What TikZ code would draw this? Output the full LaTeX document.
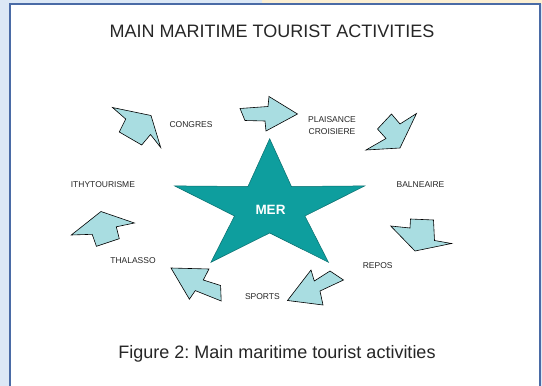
\documentclass[tikz,border=0pt]{standalone}
\usepackage{fontspec}
\setmainfont{Liberation Sans}
\frenchspacing
\definecolor{bgblue}{HTML}{DCE8F6}
\definecolor{topbeige}{HTML}{FCEFD2}
\definecolor{frameblue}{HTML}{4A6BA6}
\definecolor{arrowfill}{HTML}{A9DDE1}
\definecolor{starfill}{HTML}{0E9E9E}
\definecolor{stardraw}{HTML}{0A6E6E}
\definecolor{txt}{HTML}{262626}
\begin{document}
\begin{tikzpicture}[x=1pt,y=-1pt,
  blockarrow/.style={fill=arrowfill,draw=black,line width=0.6pt,line join=miter},
  lbl/.style={font=\fontsize{8.5}{10}\selectfont,text=txt,inner sep=0pt,anchor=base},
  big/.style={font=\fontsize{18}{21}\selectfont,text=txt,inner sep=0pt,anchor=base}]
\useasboundingbox (0,0) rectangle (542,386);
\fill[bgblue] (0,0) rectangle (542,386);
\fill[topbeige] (262,0) rectangle (542,4);
\fill[white] (10,4) rectangle (540,390);
\draw[frameblue,line width=1.2pt] (10,390) -- (10,4) -- (540,4) -- (540,390);
% title and caption
\node[big] (title) at (272,37.2) {MAIN MARITIME TOURIST ACTIVITIES};
\node[big] (caption) at (277,358.5) {Figure 2: Main maritime tourist activities};
% star
\draw[fill=starfill,draw=stardraw,line width=0.5pt,line join=miter]
  (269.7,138.7) -- (247.95,186.5) -- (174.6,185.9) -- (234.5,216) --
  (210.9,262.3) -- (269.7,233) -- (328.5,262.3) -- (304.9,216) --
  (364.8,185.9) -- (291.45,186.5) -- cycle;
\node[font=\fontsize{13.5}{15}\selectfont\bfseries,text=white,inner sep=0pt,anchor=base] (mer) at (270.5,214.8) {MER};
% arrows
\draw[blockarrow] (112.5,107.5) -- (151,115.5) -- (160.7,147.5) -- (150.5,134.5) -- (141.7,145) -- (119.3,132) -- (125.7,119) -- cycle;
\draw[blockarrow] (240,108.5) -- (268,106.5) -- (269,96.5) -- (297.5,114) -- (266,131) -- (265,121) -- (245,120.5) -- cycle;
\draw[blockarrow] (366,150) -- (400,148) -- (416.5,113.5) -- (400,124) -- (391.5,114) -- (377.5,129) -- (386,138.5) -- cycle;
\draw[blockarrow] (390.7,226) -- (410,228) -- (410.5,219) -- (433.5,220) -- (434.5,240.5) -- (451.5,243.5) -- (415,251) -- cycle;
\draw[blockarrow] (287.5,300.5) -- (311,270) -- (314.3,281) -- (330,271) -- (343.5,280) -- (320,291) -- (323,305) -- cycle;
\draw[blockarrow] (171,268) -- (209,269) -- (203.3,280) -- (220.6,285.5) -- (221.2,301) -- (195.3,290.6) -- (189.4,299.2) -- cycle;
\draw[blockarrow] (71.3,235) -- (101,211.5) -- (134.4,223) -- (116.3,226.8) -- (119.3,238.7) -- (96.4,246.3) -- (92.2,234.3) -- cycle;
% labels
\node[lbl] (congres) at (191,127) {CONGRES};
\node[lbl] (plaisance) at (332,122.5) {PLAISANCE};
\node[lbl] (croisiere) at (332,134) {CROISIERE};
\node[lbl] (balneaire) at (420.5,187.6) {BALNEAIRE};
\node[lbl] (repos) at (377.7,268.3) {REPOS};
\node[lbl] (sports) at (262.4,299.4) {SPORTS};
\node[lbl] (thalasso) at (133,263) {THALASSO};
\node[lbl] (ithy) at (102.9,187.6) {ITHYTOURISME};
\end{tikzpicture}
\end{document}
